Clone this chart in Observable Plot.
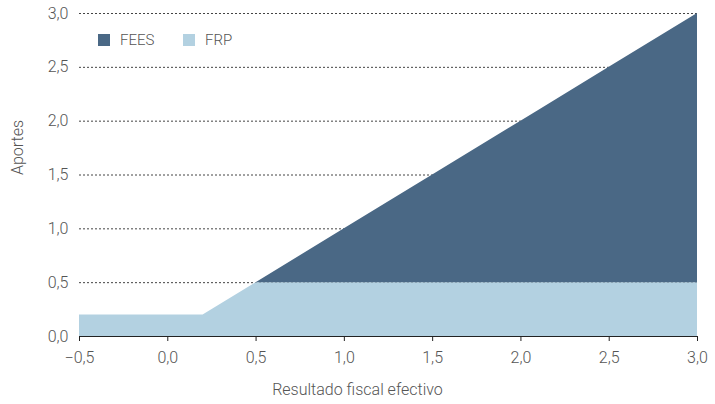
<!DOCTYPE html>
<html><head><meta charset="utf-8">
<script src="https://cdn.jsdelivr.net/npm/d3@7"></script>
<script src="https://cdn.jsdelivr.net/npm/@observablehq/plot@0.6"></script>
<style>
body{margin:0;background:#fff;}
#wrap{position:relative;width:715px;height:404px;font-family:Roboto,"Open Sans",sans-serif;font-weight:300;}
.leg{position:absolute;top:31px;font-size:15px;color:#555;display:flex;align-items:center;}
.sw{display:inline-block;width:12px;height:12px;margin-right:10px;}
</style></head>
<body><div id="wrap"></div>
<script>
const xValues   = [-0.5, 0.2, 0.3, 0.5, 1.0, 1.2, 1.5, 2.0, 2.1, 2.5, 2.7, 3.0];
const frpValues = [ 0.2, 0.2, 0.3, 0.5, 0.5, 0.5, 0.5, 0.5, 0.5, 0.5, 0.5, 0.5];
const feesValues= [ 0.0, 0.0, 0.0, 0.0, 0.5, 0.7, 1.0, 1.5, 1.6, 2.0, 2.2, 2.5];
const seriesNames = ["FEES", "FRP"];
const seriesColors = ["#4a6885", "#b3d1e1"];
const xTicks = [-0.5, 0, 0.5, 1, 1.5, 2, 2.5, 3];
const yTicks = [0, 0.5, 1, 1.5, 2, 2.5, 3];
const gridTicks = [0.5, 1, 1.5, 2, 2.5, 3];

const data = [];
xValues.forEach((x, i) => {
  data.push({x, value: frpValues[i], series: "FRP"});
  data.push({x, value: feesValues[i], series: "FEES"});
});
const fmt = v => (v < 0 ? "\u2212" : "") + d3.format(".1f")(Math.abs(v)).replace(".", ",");

const chart = Plot.plot({
  width: 715, height: 404,
  marginLeft: 79, marginRight: 18, marginTop: 13, marginBottom: 68,
  style: {fontFamily: "Roboto, 'Open Sans', sans-serif", fontSize: "16px", fontWeight: 300, color: "#555", background: "#fff"},
  x: {domain: [-0.5, 3], ticks: xTicks, tickFormat: fmt, tickSize: 5, tickPadding: 10, label: null},
  y: {domain: [0, 3], ticks: yTicks, tickFormat: fmt, tickSize: 0, tickPadding: 11, label: null},
  color: {domain: seriesNames, range: seriesColors},
  marks: [
    Plot.ruleY(gridTicks, {stroke: "#444", strokeDasharray: "2,2", strokeWidth: 1}),
    Plot.areaY(data, {x: "x", y: "value", fill: "series", order: ["FRP", "FEES"], curve: "linear"}),
    Plot.ruleY([0], {stroke: "#222", strokeWidth: 1.2}),
    Plot.axisX({ticks: xTicks, tickFormat: fmt, tickSize: 5, tickPadding: 10, stroke: "#222", fill: "#555", fontSize: 16}),
    Plot.axisY({ticks: yTicks, tickFormat: fmt, tickSize: 0, tickPadding: 11, fill: "#555", fontSize: 16}),
    Plot.text(["Aportes"], {frameAnchor: "left", dx: -62, rotate: -90, fill: "#555", fontSize: 16}),
    Plot.text(["Resultado fiscal efectivo"], {frameAnchor: "bottom", dx: -31, dy: 58, fill: "#555", fontSize: 16})
  ]
});
const wrap = document.getElementById("wrap");
wrap.appendChild(chart);
const leg = [["FEES", seriesColors[0], 98], ["FRP", seriesColors[1], 183]];
leg.forEach(([name, col, left]) => {
  const d = document.createElement("div");
  d.className = "leg";
  d.style.left = left + "px";
  d.innerHTML = `<span class="sw" style="background:${col}"></span>${name}`;
  wrap.appendChild(d);
});
</script></body></html>
